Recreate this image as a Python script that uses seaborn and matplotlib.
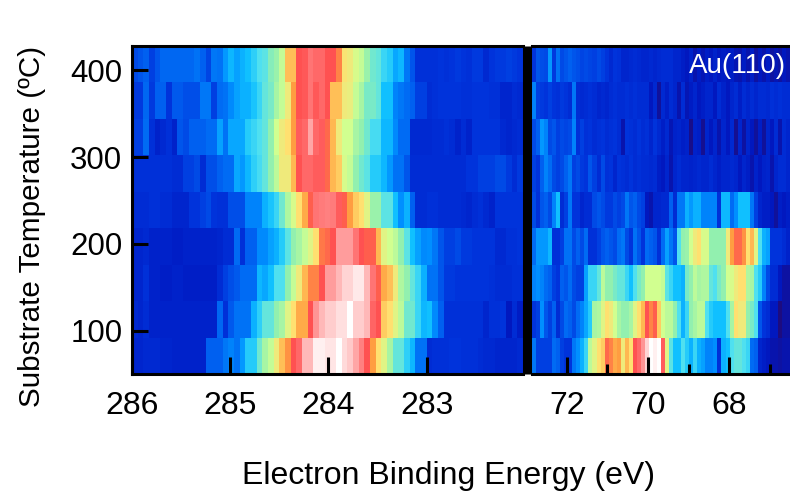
import matplotlib
matplotlib.use("Agg")
import matplotlib.pyplot as plt
from matplotlib.colors import LinearSegmentedColormap
import pandas as pd
import seaborn as sns

plt.rcParams["font.family"] = ["Liberation Sans", "DejaVu Sans"]

# row centres in degC, top row first
temps = [407, 365, 323, 281, 239, 197, 155, 113, 71]
y_ticks = [400, 300, 200, 100]
temp_top, temp_step = 428, 42

# C 1s window (intensity 0-100), one list per temperature row
c1s_407 = [20,22,24,18,22,25,25,25,25,25, 25,27,24,19,28,27,33,37,34,36, 38,41,44,45,49,51,55,65,65,74,
           75,80,78,78,74,74,70,61,60,57, 55,51,47,46,42,40,35,37,28,22, 15,15,15,
           15,16,15,16,17,16,15,17,17,13,16,17,17,18,17,16]
c1s_365 = [17,17,25,17,24,24,16,23,23,21, 21,21,28,28,18,26,27,31,34,36, 36,39,42,46,48,52,55,60,68,74,
           75,80,75,78,74,65,65,60,59,55, 52,48,48,46,38,38,30,28,26,24, 18,18,14,
           15,16,16,16,16,15,15,16,16,16,15,15,12,12,14,13]
c1s_323 = [18,18,26,15,11,13,15,11,22,20, 24,24,24,26,26,34,27,35,35,35, 40,42,44,46,50,56,60,62,68,76,
           78,86,78,76,72,66,60,56,56,52, 50,47,43,43,37,37,31,26,26,13, 13,13,13,
           14,14,15,14,11,14,11,16,16,16,16,16,13,12,13,14]
c1s_281 = [15,15,15,15,15,15,15,14,14,18, 18,20,14,21,21,24,26,26,35,33, 37,41,43,46,50,54,60,60,66,74,
           78,78,76,76,72,66,64,57,55,50, 47,45,40,40,37,33,27,27,22,14, 14,14,14,
           14,14,14,14,14,14,16,16,18,18,18,20,20,17,14,17]
c1s_239 = [14,14,14,15,15,14,14,12,12,12, 16,16,18,20,16,15,15,21,21,21, 30,30,30,36,39,42,47,53,57,62,
           67,73,80,81,82,81,76,73,68,64, 62,58,51,51,45,45,38,32,36,24, 14,14,15,
           15,14,14,14,14,13,12,14,15,13,11,16,16,16,16,16]
c1s_197 = [12,12,13,11,11,11,11,10,10,11, 11,11,11,11,11,12,14,14,26,15, 24,24,31,31,34,36,40,45,50,52,
           55,58,62,71,72,74,85,85,85,80, 74,73,73,66,58,56,54,50,45,38, 34,31,32,
           28,22,18,18,20,17,17,16,16,16,16,13,13,15,15,16]
c1s_155 = [12,12,15,11,11,10,10,11,11,10, 10,10,10,10,10,14,18,21,23,26, 26,26,37,35,38,44,44,50,55,60,
           66,70,70,74,85,85,88,92,92,96, 96,88,80,73,67,65,60,53,50,46, 42,36,27,
           27,22,17,17,16,16,16,16,16,16,15,14,14,14,15,15]
c1s_113 = [13,12,14,11,11,11,11,11,11,11, 11,11,11,11,11,25,15,23,27,27, 27,36,41,46,46,50,52,58,62,67,
           67,74,84,88,91,91,94,94,100,91, 91,88,77,74,64,62,58,54,47,47, 42,37,38,
           31,24,15,15,15,15,15,15,15,12,15,15,16,8,14,9]
c1s_071 = [12,12,13,13,13,12,12,11,11,11, 11,11,11,24,24,24,28,30,27,33, 40,40,47,52,55,60,65,69,74,78,
           88,88,97,97,95,95,100,93,90,86, 82,74,68,62,58,52,46,46,41,37, 27,27,14,
           15,15,15,16,16,15,15,15,14,13,13,12,12,12,12,13]

# Au 4f window
au4f_407 = [16,22,21,20,33,17,27,20,22,24,22,21,19,20,19,18,20,18,16,13,16,15,12,12,13,14,13,12,12,13,12,13,
            14,14,14,12,12,10,8,11,6,9,7,10,8,11,8,9,8,10,7,6,9,6,10,5,8,6,9,5,7,5,8,6]
au4f_365 = [30,18,17,16,18,16,15,17,16,14,28,14,13,14,15,14,12,13,12,14,15,14,14,15,14,15,14,14,14,8,13,4,
            13,10,14,12,6,14,7,9,12,8,10,12,12,8,14,11,8,12,14,10,14,12,14,12,14,14,13,15,14,15,14,14]
au4f_323 = [20,24,33,30,20,22,18,20,19,20,30,15,18,15,16,14,15,16,14,15,16,14,6,16,15,14,16,14,15,12,16,13,
            10,13,7,11,12,10,11,2,11,10,3,12,8,12,6,12,8,13,3,12,5,12,8,4,10,4,12,8,14,6,14,12]
au4f_281 = [18,16,24,30,26,20,18,20,24,28,18,20,17,16,22,18,14,20,15,16,12,16,15,14,16,14,15,14,14,13,14,10,
            8,12,6,12,14,12,12,11,12,13,12,12,14,12,10,12,12,13,12,8,12,10,6,11,8,11,12,6,12,14,14,12]
au4f_239 = [20,15,22,24,20,30,38,14,18,28,16,16,12,14,14,20,22,20,17,17,20,18,20,28,22,24,20,18,8,6,12,12,
            13,13,24,14,28,28,36,33,36,36,30,30,30,30,15,37,37,26,32,38,38,38,28,18,12,10,10,8,4,10,8,10]
au4f_197 = [26,33,33,33,37,15,15,18,27,27,20,24,20,26,15,15,18,22,24,22,20,26,28,20,16,27,22,16,26,24,22,15,
            26,34,28,22,44,50,51,56,60,62,57,57,50,50,50,50,60,68,72,72,69,62,66,58,44,36,34,16,16,16,14,11]
au4f_155 = [30,32,30,26,24,18,16,24,22,26,20,18,18,34,42,42,46,54,50,50,48,46,46,42,38,44,48,50,56,56,56,56,
            55,45,42,38,38,36,48,50,54,52,53,53,46,44,48,50,56,57,60,62,62,53,52,44,40,30,20,14,14,8,5,5]
au4f_113 = [16,18,32,22,18,24,14,20,26,24,20,26,30,35,40,52,53,58,62,60,56,52,50,50,52,58,62,66,74,70,73,64,
            56,54,54,50,44,36,42,50,52,54,54,44,40,38,38,38,44,52,62,60,60,50,48,44,22,16,14,8,8,1,5,5]
au4f_071 = [28,18,18,18,18,26,24,18,16,16,28,32,36,42,54,58,62,64,72,70,67,68,60,66,62,74,78,84,92,100,97,100,
            76,58,45,38,38,44,40,36,42,36,34,30,30,32,15,36,38,44,46,46,44,42,26,24,12,10,8,6,6,5,6,6]

c1s_start, c1s_end = 286.0, 282.02
au4f_start, au4f_end = 72.86, 66.5
c1s_ticks = [286, 285, 284, 283]
au4f_ticks = [72, 70, 68]
au4f_minor = [71, 69, 67]

cmap = LinearSegmentedColormap.from_list("spectrum", [
    (0.00, "#200a78"), (0.08, "#0018c0"), (0.16, "#0034dc"), (0.24, "#0060f0"),
    (0.32, "#0090ff"), (0.38, "#10c0ff"), (0.44, "#50e0f0"), (0.50, "#90f0b0"),
    (0.56, "#d0ff90"), (0.62, "#ffe070"), (0.68, "#ffa040"), (0.74, "#ff5050"),
    (0.82, "#ff8080"), (0.90, "#ffc8c8"), (1.00, "#ffffff")])

c1s = pd.DataFrame([c1s_407, c1s_365, c1s_323, c1s_281, c1s_239, c1s_197, c1s_155, c1s_113, c1s_071], index=temps)
au4f = pd.DataFrame([au4f_407, au4f_365, au4f_323, au4f_281, au4f_239, au4f_197, au4f_155, au4f_113, au4f_071], index=temps)

W, H = 790, 493
fig = plt.figure(figsize=(W / 100, H / 100), dpi=100)
ax1 = fig.add_axes([132 / W, 1 - 374 / H, (523 - 132) / W, (374 - 46) / H])
ax2 = fig.add_axes([532 / W, 1 - 374 / H, (790 - 532) / W, (374 - 46) / H])

for ax, df in [(ax1, c1s), (ax2, au4f)]:
    sns.heatmap(df, ax=ax, cmap=cmap, vmin=0, vmax=100, cbar=False,
                xticklabels=False, yticklabels=False)
    ax.set_xlabel("")
    ax.set_ylabel("")
    ax.tick_params(axis="x", which="major", direction="in", length=12.5, width=2.2, pad=12, labelsize=23)
    ax.tick_params(axis="x", which="minor", direction="in", length=7, width=2.2)
    for side in ["top", "bottom"]:
        ax.spines[side].set_visible(True)
        ax.spines[side].set_linewidth(2.2)

# tick positions in cell units of each heatmap
ax1.set_xticks([(c1s_start - e) / (c1s_start - c1s_end) * c1s.shape[1] for e in c1s_ticks])
ax1.set_xticklabels([str(e) for e in c1s_ticks])
ax2.set_xticks([(au4f_start - e) / (au4f_start - au4f_end) * au4f.shape[1] for e in au4f_ticks])
ax2.set_xticklabels([str(e) for e in au4f_ticks])
ax2.set_xticks([(au4f_start - e) / (au4f_start - au4f_end) * au4f.shape[1] for e in au4f_minor], minor=True)

ax1.set_yticks([(temp_top - t) / temp_step for t in y_ticks])
ax1.set_yticklabels([str(t) for t in y_ticks], rotation=0)
ax1.tick_params(axis="y", direction="in", length=11.5, width=2.2, pad=7, labelsize=22.5)
ax1.spines["left"].set_visible(True)
ax1.spines["left"].set_linewidth(2.2)
ax2.set_yticks([])

# thick bar for the axis break
ax2.spines["left"].set_visible(True)
ax2.spines["left"].set_linewidth(6.5)
ax2.spines["left"].set_position(("outward", 3.25))
ax2.spines["left"].set_capstyle("butt")

fig.text(786 / W, 1 - 66 / H, "Au(110)", color="white", fontsize=20, ha="right", va="center")
fig.text(448 / W, 1 - 476 / H, "Electron Binding Energy (eV)", fontsize=23, ha="center", va="center")
fig.text(32 / W, 1 - 226 / H, "Substrate Temperature (ºC)", fontsize=21.3, rotation=90, ha="center", va="center")

fig.savefig("out.png", dpi=100)
